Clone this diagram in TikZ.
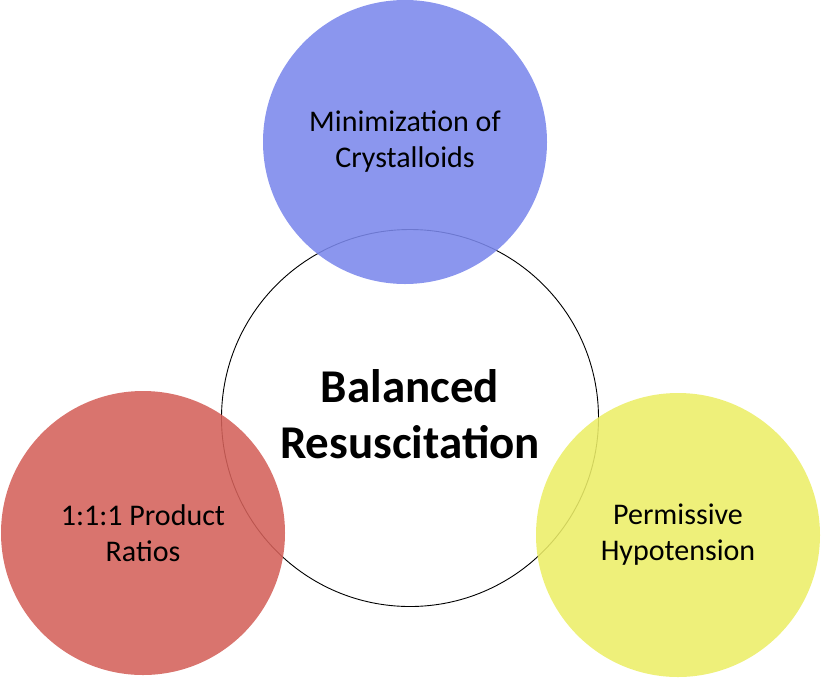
\documentclass[tikz,border=0pt]{standalone}
\usepackage{fontspec}
\setmainfont{Carlito}
\usepackage{tikz}
\usetikzlibrary{positioning}
\definecolor{crysblue}{RGB}{123,136,236}
\definecolor{ratiored}{RGB}{212,97,90}
\definecolor{hypoyellow}{RGB}{236,238,104}
\tikzset{
    %Define style for the outer circles
    punkt/.style={
           circle,
           inner sep=0pt,
           minimum size=284pt,
           fill opacity=0.88,
           text opacity=1,
           align=center,
           font=\fontsize{30}{36}\selectfont},
    % Define style for the middle circle
    punktmid/.style={
           circle,
           draw=black, line width=0.9pt,
           inner sep=0pt,
           minimum size=377pt,
           align=center,
           font=\bfseries\fontsize{47}{56}\selectfont}
}
\begin{document}
\begin{tikzpicture}[x=1pt,y=-1pt]
\useasboundingbox (0,0) rectangle (822,681);
\node[punktmid](mid) at (410,418){};
\node[punkt, fill=crysblue](crys) at (405,142){Minimization of\\Crystalloids};
\node[punkt, fill=ratiored](ratio) at (143,533){1:1:1 Product\\Ratios};
\node[punkt, fill=hypoyellow](hypo) at (678,535){Permissive\\Hypotension};
\node[font=\bfseries\fontsize{47}{56}\selectfont, align=center](midtext) at (410,414){Balanced\\Resuscitation};
\end{tikzpicture}
\end{document}
